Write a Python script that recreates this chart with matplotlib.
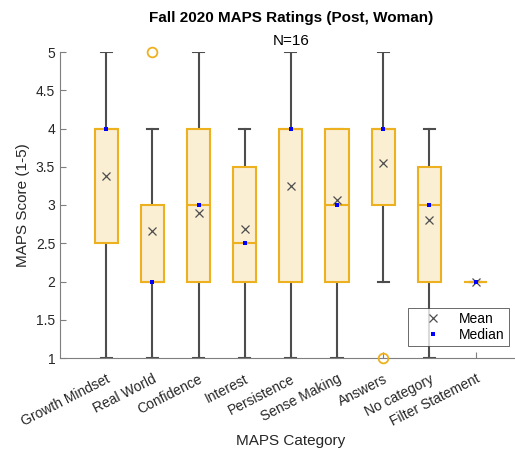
import matplotlib
matplotlib.use('Agg')
from matplotlib import pyplot as plt
from matplotlib import transforms
import numpy as np

plt.rcParams['font.family'] = ['Liberation Sans', 'DejaVu Sans']

# data (Likert 1-5)
categories = ['Growth Mindset', 'Real World', 'Confidence', 'Interest', 'Persistence',
              'Sense Making', 'Answers', 'No category', 'Filter Statement']
q1 = [2.5, 2.0, 2.0, 2.0, 2.0, 2.0, 3.0, 2.0, 2.0]
q3 = [4.0, 3.0, 4.0, 3.5, 4.0, 4.0, 4.0, 3.5, 2.0]
medians = [4.0, 2.0, 3.0, 2.5, 4.0, 3.0, 4.0, 3.0, 2.0]
whislo = [1.0, 1.0, 1.0, 1.0, 1.0, 1.0, 2.0, 1.0, 2.0]
whishi = [5.0, 4.0, 5.0, 4.0, 5.0, 4.0, 5.0, 4.0, 2.0]
means = [3.375, 2.66, 2.89, 2.69, 3.25, 3.06, 3.55, 2.81, 2.0]
outliers = [[], [5.0], [], [], [], [], [1.0], [], []]

orange = '#EDB120'
face = '#FAEED3'
dark = '#4D4D4D'
txt = '#262626'

fig = plt.figure(figsize=(5.15, 4.53), dpi=100)
ax = fig.add_axes([60/515, 95/453, 461.7/515, 306/453])

stats = []
for i in range(len(categories)):
    stats.append(dict(label=categories[i], q1=q1[i], q3=q3[i], med=medians[i],
                      whislo=whislo[i], whishi=whishi[i], fliers=outliers[i]))
pos = np.arange(1, len(categories)+1)

bp = ax.bxp(stats, positions=pos, widths=0.5, capwidths=0.24, patch_artist=True,
            showfliers=True,
            boxprops=dict(facecolor=face, edgecolor=orange, linewidth=1.5, zorder=3),
            medianprops=dict(color=orange, linewidth=1.5, zorder=3),
            whiskerprops=dict(color=dark, linewidth=1.5, zorder=2),
            capprops=dict(color=dark, linewidth=1.5, zorder=2),
            flierprops=dict(marker='o', markerfacecolor='none', markeredgecolor=orange,
                            markersize=7, markeredgewidth=1.3, zorder=4))
for f in bp['fliers']:
    f.set_clip_on(False)

mean_h, = ax.plot(pos, means, 'x', color=dark, markersize=6, markeredgewidth=0.9,
                  linestyle='none', zorder=5, label='Mean')
med_h, = ax.plot(pos, medians, 's', color='#0000FF', markersize=2.6, markeredgewidth=0,
                 linestyle='none', zorder=6, label='Median')

ax.set_xlim(0, 10)
ax.set_ylim(1, 5)
ax.set_yticks([1, 1.5, 2, 2.5, 3, 3.5, 4, 4.5, 5])
ax.set_yticklabels(['1', '1.5', '2', '2.5', '3', '3.5', '4', '4.5', '5'])
ax.set_xticks(pos)
ax.set_xticklabels(categories, rotation=27, ha='right', va='top', rotation_mode='anchor')
shift = transforms.ScaledTranslation(5/100, 0, fig.dpi_scale_trans)
for lab in ax.get_xticklabels():
    lab.set_transform(lab.get_transform() + shift)
ax.tick_params(direction='in', length=4, width=0.8, colors='#7F7F7F', labelcolor=txt,
               labelsize=10)
ax.tick_params(axis='x', pad=10)
for s in ['top', 'right']:
    ax.spines[s].set_visible(False)
for s in ['left', 'bottom']:
    ax.spines[s].set_color('#7F7F7F')
    ax.spines[s].set_linewidth(0.8)

ax.set_ylabel('MAPS Score (1-5)', fontsize=11, color=txt)
ax.set_xlabel('MAPS Category', fontsize=11, color=txt)
ax.xaxis.set_label_coords(0.5, -(434-358)/306)
fig.text(291/515, 1-18/453, 'Fall 2020 MAPS Ratings (Post, Woman)', fontsize=11,
         fontweight='bold', ha='center', va='center', color='black')
fig.text(291/515, 1-41/453, 'N=16', fontsize=11, ha='center', va='center', color='black')

leg = ax.legend(handles=[mean_h, med_h], loc='lower right',
                bbox_to_anchor=((509-60)/461.7, 12/306), borderaxespad=0, fontsize=10,
                frameon=True, fancybox=False, borderpad=0.3, handlelength=3.0,
                handletextpad=0.4, labelspacing=0.15)
leg.get_frame().set_edgecolor('#262626')
leg.get_frame().set_linewidth(0.6)

fig.savefig('out.png', dpi=100)
